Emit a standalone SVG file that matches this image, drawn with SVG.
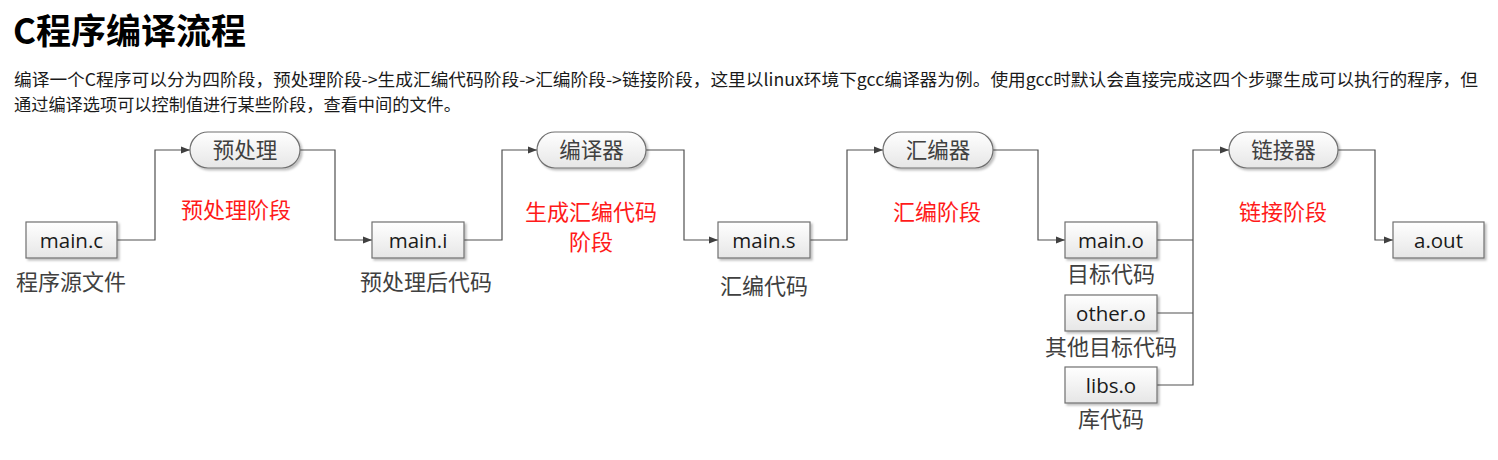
<svg xmlns="http://www.w3.org/2000/svg" width="1498" height="460" viewBox="0 0 1498 460">
<defs>
<linearGradient id="g" x1="0" y1="0" x2="0" y2="1">
<stop offset="0" stop-color="#ffffff"/>
<stop offset="1" stop-color="#e6e6e6"/>
</linearGradient>
<filter id="sh" x="-10%" y="-20%" width="130%" height="150%">
<feDropShadow dx="2" dy="2" stdDeviation="1.2" flood-color="#000" flood-opacity="0.25"/>
</filter>
<marker id="arr" markerWidth="9" markerHeight="8" refX="9" refY="4" orient="auto" markerUnits="userSpaceOnUse">
<path d="M0,0.5 L9,4 L0,7.5 Z" fill="#404040"/>
</marker>
<style>
.box{fill:url(#g);stroke:#707070;stroke-width:1.2;filter:url(#sh)}
.fn{font-family:"Open Sans","Liberation Sans",sans-serif;font-size:20.5px;fill:#1a1a1a;text-anchor:middle}
.pt{font-family:"Noto Sans CJK SC",sans-serif;font-size:21.5px;fill:#404040;text-anchor:middle}
.lb{font-family:"Noto Sans CJK SC",sans-serif;font-size:22px;fill:#404040;text-anchor:middle}
.rd{font-family:"Noto Sans CJK SC",sans-serif;font-size:22px;fill:#ff1a1a;text-anchor:middle}
.ln{fill:none;stroke:#505050;stroke-width:1.2}
.para{font-family:"Noto Sans CJK SC",sans-serif;font-size:17px;fill:#1a1a1a}
</style>
</defs>
<rect width="1498" height="460" fill="#fff"/>
<text x="13" y="44" font-family="'Noto Sans CJK SC',sans-serif" font-size="35" font-weight="bold" fill="#000">C程序编译流程</text>
<text class="para" x="14" y="86" textLength="1464" lengthAdjust="spacingAndGlyphs">编译一个C程序可以分为四阶段，预处理阶段-&gt;生成汇编代码阶段-&gt;汇编阶段-&gt;链接阶段，这里以linux环境下gcc编译器为例。使用gcc时默认会直接完成这四个步骤生成可以执行的程序，但</text>
<text class="para" x="14" y="111" textLength="447" lengthAdjust="spacingAndGlyphs">通过编译选项可以控制值进行某些阶段，查看中间的文件。</text>

<g id="connectors">
<path class="ln" d="M117,240 H155 V150 H190" marker-end="url(#arr)"/>
<path class="ln" d="M300,150 H335 V240 H372" marker-end="url(#arr)"/>
<path class="ln" d="M464,240 H502 V150 H537" marker-end="url(#arr)"/>
<path class="ln" d="M646,150 H684 V240 H718" marker-end="url(#arr)"/>
<path class="ln" d="M810,240 H847 V150 H883" marker-end="url(#arr)"/>
<path class="ln" d="M993,150 H1038 V240 H1065" marker-end="url(#arr)"/>
<path class="ln" d="M1157,240 H1193"/>
<path class="ln" d="M1157,313 H1193"/>
<path class="ln" d="M1157,385 H1193 V150 H1229" marker-end="url(#arr)"/>
<path class="ln" d="M1338,150 H1375 V240 H1393" marker-end="url(#arr)"/>
</g>

<g id="main_c"><rect class="box" x="26" y="222" width="91" height="36"/><text class="fn" x="71.5" y="247.5">main.c</text></g>
<g id="main_i"><rect class="box" x="372" y="222" width="92" height="36"/><text class="fn" x="418" y="247.5">main.i</text></g>
<g id="main_s"><rect class="box" x="718" y="222" width="92" height="36"/><text class="fn" x="764" y="247.5">main.s</text></g>
<g id="main_o"><rect class="box" x="1065" y="222" width="92" height="36"/><text class="fn" x="1111" y="247.5">main.o</text></g>
<g id="other_o"><rect class="box" x="1065" y="295" width="92" height="36"/><text class="fn" x="1111" y="320.5">other.o</text></g>
<g id="libs_o"><rect class="box" x="1065" y="367" width="92" height="36"/><text class="fn" x="1111" y="392.5">libs.o</text></g>
<g id="a_out"><rect class="box" x="1393" y="222" width="91" height="36"/><text class="fn" x="1438.5" y="247.5">a.out</text></g>

<g id="p_pre"><rect class="box" x="190" y="132" width="110" height="36" rx="18"/><text class="pt" x="245" y="158">预处理</text></g>
<g id="p_cc"><rect class="box" x="537" y="132" width="109" height="36" rx="18"/><text class="pt" x="591.5" y="158">编译器</text></g>
<g id="p_as"><rect class="box" x="883" y="132" width="110" height="36" rx="18"/><text class="pt" x="938" y="158">汇编器</text></g>
<g id="p_ld"><rect class="box" x="1229" y="132" width="109" height="36" rx="18"/><text class="pt" x="1283.5" y="158">链接器</text></g>

<g id="labels">
<text class="lb" x="71" y="290">程序源文件</text>
<text class="lb" x="426" y="290">预处理后代码</text>
<text class="lb" x="764" y="294">汇编代码</text>
<text class="lb" x="1111" y="282">目标代码</text>
<text class="lb" x="1111" y="355">其他目标代码</text>
<text class="lb" x="1111" y="427">库代码</text>
<text class="rd" x="236" y="218">预处理阶段</text>
<text class="rd" x="591" y="220">生成汇编代码</text>
<text class="rd" x="591" y="250">阶段</text>
<text class="rd" x="937" y="220">汇编阶段</text>
<text class="rd" x="1283" y="220">链接阶段</text>
</g>
</svg>
